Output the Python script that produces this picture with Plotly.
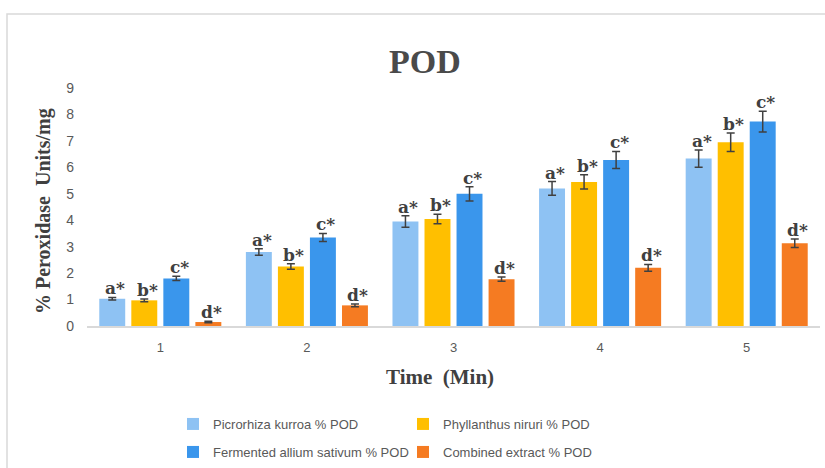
import plotly.graph_objects as go

# ---------------- data ----------------
times = ["1", "2", "3", "4", "5"]
series_names = [
    "Picrorhiza kurroa % POD",
    "Phyllanthus niruri % POD",
    "Fermented allium sativum % POD",
    "Combined extract % POD",
]
picrorhiza = [1.03, 2.80, 3.95, 5.20, 6.33]
phyllanthus = [0.97, 2.25, 4.05, 5.45, 6.95]
allium = [1.80, 3.35, 5.00, 6.28, 7.73]
combined = [0.15, 0.78, 1.77, 2.20, 3.13]

picrorhiza_err = [0.05, 0.12, 0.22, 0.26, 0.33]
phyllanthus_err = [0.05, 0.10, 0.18, 0.27, 0.35]
allium_err = [0.08, 0.15, 0.27, 0.32, 0.39]
combined_err = [0.03, 0.05, 0.08, 0.13, 0.16]

sig_letters = ["a*", "b*", "c*", "d*"]

colors = ["#8EC2F3", "#FFBF00", "#3A96EC", "#F57B22"]

# ---------------- layout constants ----------------
W, H = 825, 468
ML, MR, MT, MB = 87, 5, 88, 142
BARGAP, BARGROUPGAP = 0.126, 0.19
plot_w = W - ML - MR
plot_h = H - MT - MB


def px_x(px):
    return (px - ML) / plot_w


def px_y(py):
    return (H - MB - py) / plot_h


values = [picrorhiza, phyllanthus, allium, combined]
errors = [picrorhiza_err, phyllanthus_err, allium_err, combined_err]

fig = go.Figure()
legend_ids = ["legend", "legend", "legend2", "legend2"]
for i in range(4):
    fig.add_trace(go.Bar(
        x=times, y=values[i], name=series_names[i],
        marker=dict(color=colors[i], line=dict(width=0)),
        error_y=dict(type="data", array=errors[i], visible=True,
                     color="#404040", thickness=1.5, width=4),
        legend=legend_ids[i],
    ))

# significance letters above error bars
n_cat = len(times)
cat_w = plot_w / n_cat
slot = cat_w * (1 - BARGAP) / 4
for i in range(4):
    offset = (i - 1.5) * slot + 3
    for j, t in enumerate(times):
        fig.add_annotation(
            x=(j + 0.5) / n_cat, y=values[i][j] + errors[i][j], xref="paper", yref="y",
            text=sig_letters[i], showarrow=False, xshift=offset, yshift=-3,
            yanchor="bottom", xanchor="center",
            font=dict(family="DejaVu Serif", size=17, color="#404040", weight="bold"),
        )

# titles
fig.add_annotation(x=px_x(425), y=px_y(62), xref="paper", yref="paper",
                   text="<b>POD</b>", showarrow=False, xanchor="center", yanchor="middle",
                   font=dict(family="Liberation Serif", size=34, color="#4a4a4a"))
fig.add_annotation(x=px_x(440), y=px_y(377), xref="paper", yref="paper",
                   text="<b>Time  (Min)</b>", showarrow=False, xanchor="center", yanchor="middle",
                   font=dict(family="Liberation Serif", size=21, color="#404040"))
fig.add_annotation(x=px_x(43), y=px_y(211), xref="paper", yref="paper",
                   text="<b>% Peroxidase  Units/mg</b>", showarrow=False, textangle=-90,
                   xanchor="center", yanchor="middle",
                   font=dict(family="Liberation Serif", size=20, color="#404040"))

# outer border
fig.add_shape(type="rect", xref="paper", yref="paper",
              x0=px_x(7), y0=px_y(520), x1=px_x(900), y1=px_y(14),
              line=dict(color="#D9D9D9", width=1.5), fillcolor="rgba(0,0,0,0)", layer="below")

legend_font = dict(family="Liberation Sans", size=13, color="#595959")
fig.update_layout(
    width=W, height=H,
    margin=dict(l=ML, r=MR, t=MT, b=MB, autoexpand=False),
    paper_bgcolor="white", plot_bgcolor="white",
    barmode="group", bargap=BARGAP, bargroupgap=BARGROUPGAP,
    xaxis=dict(type="category", showgrid=False, showline=True, linecolor="#D9D9D9",
               linewidth=1.5, ticks="", tickfont=dict(family="Liberation Sans", size=13, color="#595959"),
               ticklabelstandoff=9),
    yaxis=dict(range=[0, 9], dtick=1, showgrid=False, showline=False, zeroline=False,
               ticks="", tickfont=dict(family="Liberation Sans", size=14, color="#595959"),
               ticklabelstandoff=12),
    legend=dict(orientation="h", x=px_x(173), y=1 - 424 / H, yref="container",
                xanchor="left", yanchor="middle",
                entrywidth=185, entrywidthmode="pixels", font=legend_font,
                bgcolor="rgba(0,0,0,0)", itemwidth=30),
    legend2=dict(orientation="h", x=px_x(173), y=1 - 452 / H, yref="container",
                 xanchor="left", yanchor="middle",
                 entrywidth=185, entrywidthmode="pixels", font=legend_font,
                 bgcolor="rgba(0,0,0,0)", itemwidth=30),
    showlegend=True,
)

fig.write_html("out.html")
